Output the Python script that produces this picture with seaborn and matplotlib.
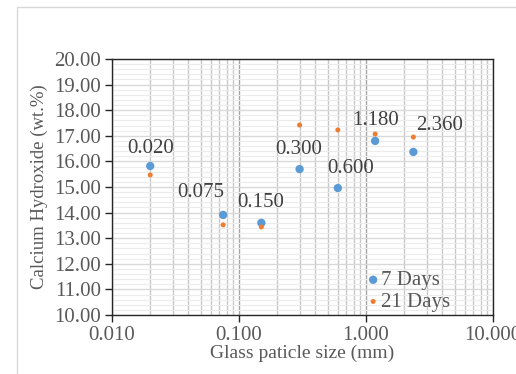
import numpy as np
import pandas as pd
import matplotlib.pyplot as plt
import seaborn as sns
from matplotlib.ticker import LogLocator, MultipleLocator, FormatStrFormatter
from matplotlib.patches import Rectangle

# Data
sizes = [0.020, 0.075, 0.150, 0.300, 0.600, 1.180, 2.360]
days7 = [15.82, 13.91, 13.60, 15.70, 14.96, 16.80, 16.37]
days21 = [15.47, 13.52, 13.44, 17.42, 17.23, 17.07, 16.95]
point_labels = ['0.020', '0.075', '0.150', '0.300', '0.600', '1.180', '2.360']
# label offsets (points) relative to 7 days markers
label_offsets = [(0, 12.6), (-15.8, 16), (-0.7, 14.4), (-0.4, 14.4),
                 (9.4, 13.7), (0, 14.4), (19, 18.7)]

df = pd.DataFrame({'size': sizes, '7 Days': days7, '21 Days': days21})

sns.set_style('white')
plt.rcParams['font.family'] = ['Liberation Serif', 'DejaVu Serif']
grey = '#595959'

fig = plt.figure(figsize=(5.16, 3.74), dpi=100)
ax = fig.add_axes([112 / 516, 1 - 315 / 374, (493 - 112) / 516, (315 - 59) / 374])

fig.patches.append(Rectangle((17 / 516, -0.1), 1.2, 1 - 7 / 374 + 0.1,
                             transform=fig.transFigure, fill=False,
                             edgecolor='#d9d9d9', linewidth=1, zorder=0))

sns.scatterplot(data=df, x='size', y='7 Days', ax=ax, color='#5b9bd5', s=36,
                edgecolor='none', label='7 Days', zorder=4)
sns.scatterplot(data=df, x='size', y='21 Days', ax=ax, color='#ed7d31', s=13,
                edgecolor='none', label='21 Days', zorder=4)

for x, y, t, off in zip(sizes, days7, point_labels, label_offsets):
    ax.annotate(t, (x, y), xytext=off, textcoords='offset points',
                ha='center', va='center', fontsize=15, color='#404040')

ax.set_xscale('log')
ax.set_xlim(0.01, 10)
ax.set_ylim(10, 20)
ax.xaxis.set_major_locator(LogLocator(base=10, numticks=10))
ax.xaxis.set_minor_locator(LogLocator(base=10, subs=np.arange(2, 10), numticks=20))
ax.xaxis.set_major_formatter(FormatStrFormatter('%.3f'))
ax.yaxis.set_major_locator(MultipleLocator(1))
ax.yaxis.set_minor_locator(MultipleLocator(0.2))
ax.yaxis.set_major_formatter(FormatStrFormatter('%.2f'))

ax.grid(which='major', axis='x', color='#a6a6a6', linewidth=1)
ax.grid(which='minor', axis='x', color='#c8c8c8', linewidth=1)
ax.grid(which='major', axis='y', color='#d9d9d9', linewidth=1)
ax.grid(which='minor', axis='y', color='#ececec', linewidth=0.8)
ax.set_axisbelow(True)

for s in ax.spines.values():
    s.set_color('#262626')
    s.set_linewidth(1)

ax.tick_params(which='major', direction='out', length=5, width=1, color='#262626',
               labelsize=15, labelcolor=grey, left=True, bottom=True, pad=3)
ax.tick_params(which='minor', length=0)

ax.set_xlabel('Glass paticle size (mm)', fontsize=14, color=grey, labelpad=0)
ax.set_ylabel('Calcium Hydroxide (wt.%)', fontsize=13.5, color=grey, labelpad=4)

leg = ax.legend(loc='lower left', bbox_to_anchor=(0.669, 0.012), frameon=False,
                fontsize=15, handlelength=0.6, handletextpad=0.1, borderpad=0,
                borderaxespad=0, labelspacing=0.1, markerscale=1.0)
for t in leg.get_texts():
    t.set_color(grey)

fig.savefig('out.png', dpi=100)
